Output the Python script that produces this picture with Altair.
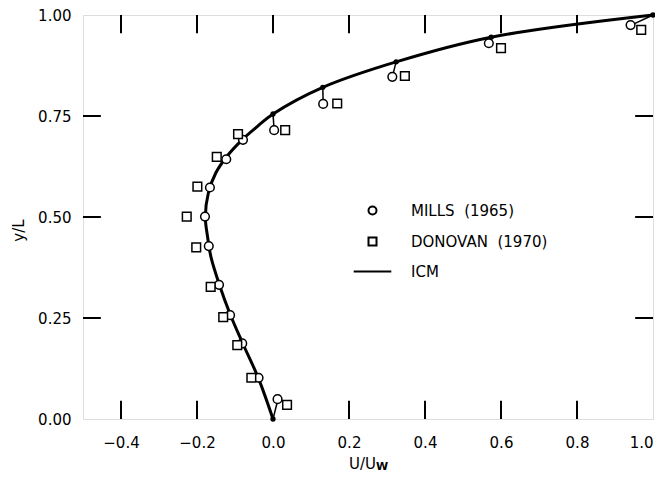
import altair as alt
import pandas as pd

# ---- data ----
mills_u = [0.012, -0.038, -0.081, -0.113, -0.142, -0.169, -0.179, -0.166, -0.123, -0.079, 0.003, 0.132, 0.314, 0.568, 0.941]
mills_y = [0.049, 0.102, 0.187, 0.257, 0.332, 0.428, 0.501, 0.573, 0.643, 0.691, 0.715, 0.780, 0.847, 0.930, 0.975]
donovan_u = [0.037, -0.057, -0.094, -0.131, -0.164, -0.202, -0.227, -0.199, -0.148, -0.092, 0.032, 0.169, 0.347, 0.600, 0.969]
donovan_y = [0.035, 0.102, 0.183, 0.252, 0.327, 0.425, 0.501, 0.575, 0.649, 0.705, 0.715, 0.781, 0.849, 0.918, 0.963]
icm_u = [0.000, -0.038, -0.081, -0.113, -0.142, -0.163, -0.172, -0.178, -0.170, -0.150, -0.123, -0.080, -0.040, 0.000, 0.131, 0.324, 0.574, 1.000]
icm_y = [0.000, 0.100, 0.190, 0.260, 0.335, 0.400, 0.450, 0.500, 0.560, 0.610, 0.648, 0.692, 0.725, 0.755, 0.821, 0.884, 0.945, 1.000]
node_u = [0.000, 0.000, 0.131, 0.324, 0.574, 1.000]
node_y = [0.000, 0.755, 0.821, 0.884, 0.945, 1.000]
stub_u = [0.012, 0.003, 0.132, 0.314, 0.568, 0.950]
stub_y = [0.045, 0.715, 0.780, 0.847, 0.930, 0.978]

series_names = ["MILLS\u00a0\u00a0(1965)", "DONOVAN\u00a0\u00a0(1970)", "ICM"]
x_labels = [-0.4, -0.2, 0.0, 0.2, 0.4, 0.6, 0.8, 1.0]
y_labels = [0.0, 0.25, 0.5, 0.75, 1.0]
bottom_ticks = [-0.4, -0.2, 0.2, 0.4, 0.6, 0.8]
top_ticks = [-0.4, -0.2, 0.0, 0.2, 0.4, 0.6, 0.8]
side_ticks = [0.25, 0.5, 0.75]
TX = 0.045   # tick length in y units
TY = 0.047   # tick length in x units

FONT = "DejaVu Sans"

pts = pd.DataFrame(
    {"u": mills_u + donovan_u,
     "y": mills_y + donovan_y,
     "series": [series_names[0]] * len(mills_u) + [series_names[1]] * len(donovan_u)}
)
icm = pd.DataFrame({"u": icm_u, "y": icm_y, "order": list(range(len(icm_u)))})
nodes = pd.DataFrame({"u": node_u, "y": node_y})
stubs = pd.DataFrame({"u": node_u, "y": node_y, "u2": stub_u, "y2": stub_y})

tick_rows = []
for t in bottom_ticks:
    tick_rows.append({"u": t, "y": 0.0, "u2": t, "y2": TX})
for t in top_ticks:
    tick_rows.append({"u": t, "y": 1.0, "u2": t, "y2": 1.0 - TX})
for t in side_ticks:
    tick_rows.append({"u": -0.5, "y": t, "u2": -0.5 + TY, "y2": t})
    tick_rows.append({"u": 1.0, "y": t, "u2": 1.0 - TY, "y2": t})
ticks = pd.DataFrame(tick_rows)

xscale = alt.Scale(domain=[-0.5, 1.0], nice=False, zero=False)
yscale = alt.Scale(domain=[0.0, 1.0], nice=False, zero=False)

xaxis = alt.Axis(values=x_labels, format=".1f", ticks=False, grid=False, domain=False,
                 labelFont=FONT, labelFontSize=15, labelColor="black", labelPadding=16,
                 title="U/U", titleFont=FONT, titleFontSize=15, titleFontWeight="normal",
                 titleColor="black", titleX=279, titleY=44, titleBaseline="middle",
                 titleAnchor="start", titleAlign="center")
yaxis = alt.Axis(values=y_labels, format=".2f", ticks=False, grid=False, domain=False,
                 labelFont=FONT, labelFontSize=15, labelColor="black", labelPadding=12,
                 title="y/L", titleFont=FONT, titleFontSize=15, titleFontWeight="normal",
                 titleColor="black", titleX=-65, titleY=215, titleBaseline="middle",
                 titleAnchor="start", titleAlign="center", titleAngle=270)

X = alt.X("u:Q", scale=xscale, axis=xaxis)
Y = alt.Y("y:Q", scale=yscale, axis=yaxis)

tick_layer = alt.Chart(ticks).mark_rule(color="black", strokeWidth=2).encode(
    x=X, y=Y, x2="u2:Q", y2="y2:Q")

stub_layer = alt.Chart(stubs).mark_rule(color="black", strokeWidth=1.5).encode(
    x=X, y=Y, x2="u2:Q", y2="y2:Q")

line_layer = alt.Chart(icm).mark_line(color="black", strokeWidth=3, interpolate="catmull-rom").encode(
    x=X, y=Y, order="order:Q")

node_layer = alt.Chart(nodes).mark_point(filled=True, color="black", size=28, opacity=1).encode(
    x=X, y=Y)

legend = alt.Legend(title=None, orient="none", legendX=282, legendY=188, padding=0,
                    labelFont=FONT, labelFontSize=15, labelColor="black", labelOffset=31,
                    rowPadding=14, symbolSize=64, symbolStrokeWidth=2)

point_layer = alt.Chart(pts).mark_point(filled=False, color="black", fill="white", stroke="black",
                                        size=75, strokeWidth=1.5, opacity=1).encode(
    x=X, y=Y,
    shape=alt.Shape("series:N",
                    scale=alt.Scale(domain=series_names, range=["circle", "square", "M-4.7,0H4.7"]),
                    legend=legend),
)

w_text = alt.Chart(pd.DataFrame({"t": ["W"]})).mark_text(
    font=FONT, fontSize=11, fontWeight="bold", color="black", align="center", baseline="middle"
).encode(x=alt.value(299), y=alt.value(452), text="t:N")

chart = alt.layer(tick_layer, stub_layer, line_layer, node_layer, point_layer, w_text).properties(
    width=570, height=404,
    autosize=alt.AutoSizeParams(type="none"),
    padding={"left": 75, "top": 7, "right": 2, "bottom": 54},
).configure_view(stroke="black", strokeWidth=2).configure(background="white")

chart.save("out.html", embed_options={"renderer": "svg", "actions": False})
